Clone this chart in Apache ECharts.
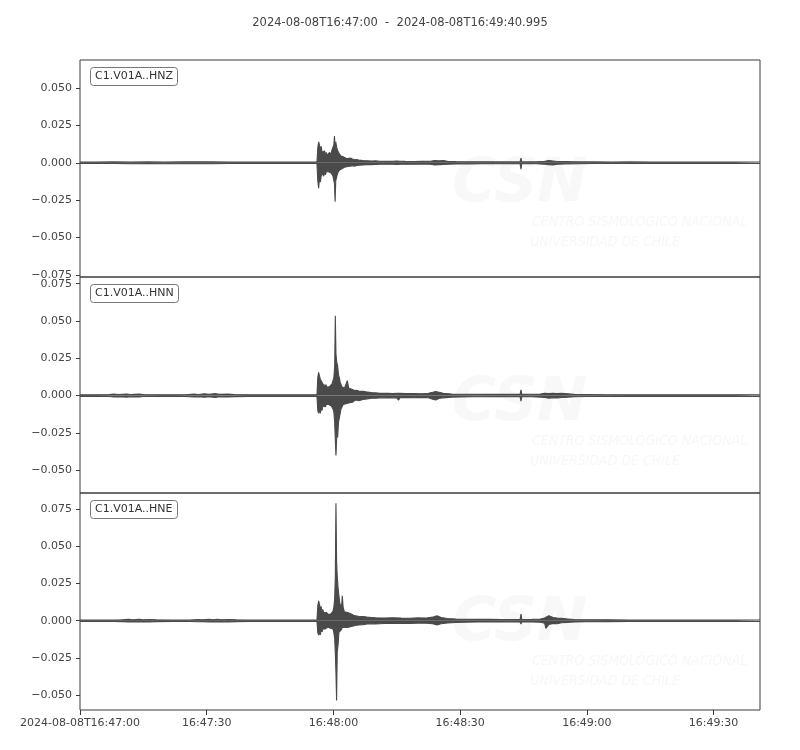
<!DOCTYPE html>
<html>
<head>
<meta charset="utf-8">
<script src="https://cdn.jsdelivr.net/npm/echarts@6/dist/echarts.min.js"></script>
<style>html,body{margin:0;padding:0;background:#fff}#c{width:800px;height:750px}</style>
</head>
<body>
<div id="c"></div>
<script>
// ---- data ----
const titleText = '2024-08-08T16:47:00  -  2024-08-08T16:49:40.995';
const channels = ['C1.V01A..HNZ', 'C1.V01A..HNN', 'C1.V01A..HNE'];
const startClock = [16, 47, 0];          // seconds axis origin = 16:47:00
const endSeconds = 160.995;
const timeTicks = [0, 30, 60, 90, 120, 150];
const yTicksZ = [-0.075, -0.05, -0.025, 0, 0.025, 0.05];
const yTicksN = [-0.05, -0.025, 0, 0.025, 0.05, 0.075];
const yTicksE = [-0.05, -0.025, 0, 0.025, 0.05, 0.075];

// envelope samples: [seconds after 16:47:00, max amplitude, min amplitude]
const hnzEnvelope = [
  [0,.0005,-.0005],[4,.0005,-.0005],[8,.0006,-.0005],[12,.0005,-.0006],[16,.0006,-.0005],[20,.0005,-.0006],
  [24,.0006,-.0006],[28,.0006,-.0006],[30.6,.0006,-.0006],[31,.0012,-.0010],[31.4,.0006,-.0006],[35,.0005,-.0005],
  [40,.0005,-.0005],[45,.0005,-.0005],[50,.0005,-.0005],[56.1,.0005,-.0005],
  [56.3,.010,-.012],[56.5,.014,-.017],[56.7,.012,-.010],[56.9,.009,-.013],[57.1,.011,-.009],[57.3,.007,-.010],
  [57.5,.008,-.007],[57.7,.006,-.009],[57.9,.008,-.006],[58.1,.005,-.008],[58.3,.007,-.006],[58.5,.005,-.007],
  [58.7,.006,-.005],[58.9,.005,-.006],[59.1,.007,-.005],[59.3,.005,-.006],[59.5,.006,-.007],[59.7,.009,-.006],
  [59.9,.008,-.009],[60.1,.012,-.010],[60.25,.018,-.014],[60.4,.010,-.026],[60.55,.014,-.012],[60.8,.010,-.009],
  [61.0,.008,-.007],[61.2,.007,-.006],[61.4,.006,-.005],[61.6,.005,-.0045],[61.8,.0045,-.004],[62.0,.005,-.004],
  [62.3,.004,-.0035],[62.6,.0035,-.003],[63.0,.003,-.003],[63.5,.0028,-.0025],[64,.0032,-.0022],[64.5,.0025,-.002],
  [65,.002,-.0022],[65.5,.0022,-.0018],[66,.0018,-.0016],[67,.0015,-.0014],[68,.0014,-.0012],[69,.0012,-.0012],
  [70,.0013,-.0011],[71,.0011,-.001],[72,.001,-.001],[73,.0011,-.0009],[74,.001,-.001],[75,.0012,-.0011],
  [75.4,.0022,-.0015],[75.8,.0011,-.001],[77,.001,-.0009],[79,.0009,-.0009],[81,.001,-.0008],[83,.0011,-.001],
  [84,.0016,-.0014],[85,.0013,-.0012],[86,.0015,-.0011],[87,.001,-.0009],[89,.0008,-.0008],[92,.0007,-.0007],
  [95,.0007,-.0006],[98,.0006,-.0006],[101,.0006,-.0006],[104.2,.0006,-.0006],[104.4,.0032,-.0042],[104.6,.0006,-.0006],
  [106,.0006,-.0006],[108,.0007,-.0006],[110,.001,-.0009],[111,.0015,-.0012],[112,.0012,-.0014],[113,.0009,-.0009],
  [115,.0008,-.0007],[118,.0006,-.0006],[122,.0006,-.0005],[126,.0005,-.0005],[130,.0006,-.0005],[135,.0005,-.0005],
  [140,.0005,-.0005],[145,.0005,-.0005],[148,.0005,-.0005],[148.2,.0009,-.0008],[148.4,.0005,-.0005],[155,.0005,-.0005],[160.995,.0005,-.0005]
];
const hnnEnvelope = [
  [0,.0005,-.0005],[4,.0005,-.0005],[7,.0007,-.0006],[8,.0010,-.0009],[9,.0007,-.0007],[11,.0011,-.0010],[12,.0007,-.0008],
  [14,.0010,-.0009],[15,.0007,-.0006],[17,.0006,-.0006],[21,.0005,-.0005],[25,.0006,-.0006],[27,.0010,-.0009],[28,.0007,-.0007],
  [29.5,.0012,-.0011],[30.5,.0008,-.0008],[32,.0013,-.0012],[33,.0008,-.0008],[35,.0010,-.0009],[36.5,.0007,-.0007],
  [40,.0005,-.0005],[45,.0005,-.0005],[50,.0005,-.0005],[56.1,.0005,-.0005],
  [56.3,.012,-.010],[56.5,.0156,-.0119],[56.7,.013,-.009],[56.9,.011,-.012],[57.1,.012,-.008],[57.3,.009,-.010],
  [57.5,.010,-.007],[57.7,.007,-.008],[57.9,.008,-.006],[58.1,.006,-.0075],[58.3,.007,-.006],[58.5,.0055,-.007],
  [58.7,.006,-.0065],[58.9,.005,-.006],[59.1,.006,-.0067],[59.3,.0056,-.0055],[59.5,.006,-.007],[59.7,.008,-.006],
  [59.9,.007,-.009],[60.1,.012,-.011],[60.3,.020,-.018],[60.45,.0536,-.030],[60.6,.028,-.0402],[60.8,.022,-.026],
  [61.0,.020,-.028],[61.2,.014,-.018],[61.4,.012,-.017],[61.6,.009,-.012],[61.8,.008,-.009],[62.0,.006,-.008],
  [62.3,.007,-.006],[62.6,.005,-.007],[63.0,.006,-.0055],[63.3,.010,-.0045],[63.6,.005,-.005],[64.0,.0045,-.004],
  [64.5,.004,-.0045],[65.0,.0034,-.0034],[65.5,.0036,-.003],[66,.003,-.0034],[67,.0028,-.0026],[68,.0024,-.0022],
  [69,.002,-.0018],[70,.0018,-.0017],[71,.0015,-.0015],[72,.0016,-.0014],[73,.0015,-.0016],[74,.0014,-.0014],
  [75,.0016,-.0015],[75.4,.0012,-.003],[75.8,.0015,-.0014],[77,.0013,-.0012],[79,.0013,-.0014],[81,.0012,-.0012],
  [82.5,.0016,-.0014],[83.5,.0022,-.0025],[84.2,.0027,-.003],[85,.0022,-.002],[86,.0015,-.0015],[88,.0011,-.001],
  [90,.0009,-.0009],[93,.0009,-.0008],[96,.0008,-.0008],[99,.0008,-.0007],[102,.0008,-.0008],[104.2,.0008,-.0008],
  [104.4,.0038,-.0038],[104.6,.0008,-.0008],[107,.0009,-.0008],[109,.0011,-.001],[110,.0015,-.0013],[111,.0014,-.0017],
  [112,.0016,-.0014],[113,.0013,-.0016],[114,.0015,-.0012],[115.5,.0012,-.0011],[117,.0008,-.0008],[120,.0007,-.0006],
  [125,.0006,-.0006],[130,.0005,-.0005],[135,.0005,-.0005],[140,.0005,-.0005],[145,.0005,-.0005],[148,.0005,-.0005],
  [148.2,.0009,-.0009],[148.4,.0005,-.0005],[155,.0005,-.0005],[160.995,.0005,-.0005]
];
const hneEnvelope = [
  [0,.0005,-.0005],[4,.0005,-.0005],[8,.0005,-.0005],[10,.0007,-.0006],[11.5,.0009,-.0008],[12.5,.0006,-.0006],
  [14,.0009,-.0008],[15,.0006,-.0006],[16.5,.0008,-.0009],[18,.0006,-.0006],[22,.0005,-.0005],[26,.0005,-.0005],
  [28,.0008,-.0007],[29,.0006,-.0006],[30.5,.0009,-.0009],[31.5,.0006,-.0006],[32.5,.0010,-.0008],[33.5,.0006,-.0006],
  [35,.0008,-.0008],[37,.0006,-.0006],[40,.0005,-.0005],[45,.0005,-.0005],[50,.0005,-.0005],[56.1,.0005,-.0005],
  [56.3,.010,-.008],[56.5,.0134,-.0096],[56.7,.011,-.008],[56.9,.008,-.0095],[57.1,.0095,-.006],[57.3,.006,-.0075],
  [57.5,.0075,-.0056],[57.7,.0055,-.0065],[57.9,.0065,-.005],[58.1,.0045,-.0055],[58.3,.0055,-.0045],[58.5,.0045,-.005],
  [58.7,.005,-.0042],[58.9,.004,-.0048],[59.1,.0045,-.0045],[59.3,.004,-.005],[59.5,.0048,-.0042],[59.7,.005,-.006],
  [59.9,.0065,-.0055],[60.1,.009,-.008],[60.3,.015,-.012],[60.45,.030,-.022],[60.6,.0789,-.035],[60.75,.040,-.0536],
  [60.9,.030,-.021],[61.1,.022,-.016],[61.3,.0168,-.0078],[61.5,.012,-.009],[61.7,.010,-.0065],[61.9,.008,-.006],
  [62.1,.0168,-.0045],[62.3,.009,-.005],[62.6,.006,-.0045],[63.0,.0067,-.0052],[63.4,.0055,-.0045],[63.8,.005,-.004],
  [64.2,.0045,-.0038],[64.6,.0038,-.0035],[65.0,.0034,-.0034],[65.5,.0032,-.003],[66,.003,-.0028],[67,.0028,-.0026],
  [68,.0024,-.0022],[69,.0022,-.002],[70,.002,-.0022],[72,.0018,-.0019],[74,.002,-.0017],[76,.0018,-.0018],
  [78,.0017,-.0019],[80,.0019,-.0016],[82,.0018,-.0017],[83.5,.0024,-.002],[84.5,.0034,-.0028],[85.5,.0022,-.002],
  [87,.0015,-.0015],[89,.0012,-.0012],[91,.001,-.001],[94,.0009,-.0009],[97,.0009,-.0008],[100,.0008,-.0008],
  [102,.0008,-.0007],[104.2,.0008,-.0008],[104.4,.0045,-.0022],[104.6,.0008,-.0008],[107,.0009,-.0008],[109,.0012,-.001],
  [110,.0018,-.0016],[110.3,.0016,-.0052],[111,.0034,-.0025],[112,.0022,-.0018],[113,.0018,-.002],[114,.0016,-.0014],
  [115.5,.0012,-.0011],[117,.0008,-.0008],[120,.0007,-.0007],[125,.0006,-.0006],[130,.0005,-.0005],[135,.0005,-.0005],
  [140,.0005,-.0005],[145,.0005,-.0005],[148,.0005,-.0005],[148.2,.0008,-.0008],[148.4,.0005,-.0005],[155,.0005,-.0005],[160.995,.0005,-.0005]
];

// ---- chart ----
const FONT = '"DejaVu Sans", sans-serif';
const TEXT = '#444';
const TRACE = '#4a4a4a';
const envelopes = [hnzEnvelope, hnnEnvelope, hneEnvelope];
const yTicks = [yTicksZ, yTicksN, yTicksE];
const yRanges = [[-0.0764, 0.0688], [-0.0653, 0.0795], [-0.0599, 0.0857]];
const gridTops = [60, 277, 493];
const gridHeights = [217, 216, 217];

function pad(n) { return (n < 10 ? '0' : '') + n; }
function clock(sec) {
  const total = startClock[0] * 3600 + startClock[1] * 60 + startClock[2] + sec;
  const h = Math.floor(total / 3600), m = Math.floor((total % 3600) / 60), s = Math.round(total % 60);
  return pad(h) + ':' + pad(m) + ':' + pad(s);
}
function yFmt(v) {
  const a = Math.abs(v).toFixed(3);
  return v < -1e-9 ? '\u2212' + a : a;
}

const grids = [], xAxes = [], yAxes = [], series = [], titles = [];
titles.push({ text: titleText, left: 'center', top: 12,
  textStyle: { fontFamily: FONT, fontSize: 11.5, fontWeight: 'normal', color: TEXT } });

for (let i = 0; i < 3; i++) {
  grids.push({ left: 80, width: 680, top: gridTops[i], height: gridHeights[i],
    show: true, borderColor: '#3a3a3a', borderWidth: 1, backgroundColor: 'transparent' });
  const bottom = i === 2;
  xAxes.push({ type: 'value', gridIndex: i, min: 0, max: endSeconds, position: 'bottom',
    axisLine: { show: false, onZero: false }, splitLine: { show: false },
    axisTick: { show: bottom, length: 5, customValues: timeTicks, lineStyle: { color: '#3a3a3a' } },
    axisLabel: { show: bottom, customValues: timeTicks, margin: 8, fontFamily: FONT, fontSize: 11, color: TEXT,
      formatter: v => v === 0 ? '2024-08-08T' + clock(v) : clock(v) } });
  yAxes.push({ type: 'value', gridIndex: i, min: yRanges[i][0], max: yRanges[i][1], position: 'left',
    axisLine: { show: false, onZero: false }, splitLine: { show: false },
    axisTick: { show: true, length: 4, customValues: yTicks[i], lineStyle: { color: '#3a3a3a' } },
    axisLabel: { customValues: yTicks[i], margin: 8, fontFamily: FONT, fontSize: 11, color: TEXT, formatter: yFmt } });
  const upper = envelopes[i].map(d => [d[0], d[1]]);
  const lower = envelopes[i].map(d => [d[0], d[2]]);
  [upper, lower].forEach(arr => series.push({
    type: 'line', xAxisIndex: i, yAxisIndex: i, data: arr, showSymbol: false, symbol: 'none',
    lineStyle: { color: TRACE, width: 1.1 }, areaStyle: { color: TRACE, opacity: 1, origin: 0 },
    silent: true, z: 3, clip: true
  }));
  titles.push({ text: channels[i], left: 90, top: gridTops[i] + 7,
    borderColor: '#777', borderWidth: 1, borderRadius: 3, padding: [4, 5, 4, 5], backgroundColor: '#fff',
    textStyle: { fontFamily: FONT, fontSize: 11, fontWeight: 'normal', color: '#333' } });
}

// faint watermark (logo text) in each panel
const wm = [];
const wmOffsets = [0, 219, 439];
wmOffsets.forEach(dy => {
  wm.push({ type: 'text', z: 0, style: { text: 'CSN', x: 452, y: 155 + dy, font: 'italic bold 60px "DejaVu Sans"', fill: '#f8f8f8' } });
  wm.push({ type: 'text', z: 0, style: { text: 'CENTRO SISMOLÓGICO NACIONAL', x: 532, y: 215 + dy, font: 'italic 14px "DejaVu Sans Condensed", sans-serif', fill: '#f7f7f7' } });
  wm.push({ type: 'text', z: 0, style: { text: 'UNIVERSIDAD DE CHILE', x: 530, y: 235 + dy, font: 'italic 14px "DejaVu Sans Condensed", sans-serif', fill: '#f7f7f7' } });
});

const chart = echarts.init(document.getElementById('c'), null, { renderer: 'canvas' });
chart.setOption({
  animation: false,
  backgroundColor: '#fff',
  title: titles,
  grid: grids,
  xAxis: xAxes,
  yAxis: yAxes,
  series: series,
  graphic: { elements: wm }
});
</script>
</body>
</html>
